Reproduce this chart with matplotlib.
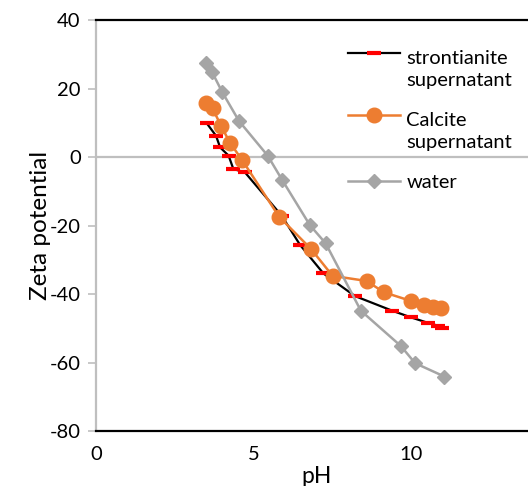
import matplotlib
matplotlib.use("Agg")
import matplotlib.pyplot as plt
from matplotlib.legend_handler import HandlerLine2D

plt.rcParams['font.family'] = ['Lato', 'DejaVu Sans']
plt.rcParams['axes.unicode_minus'] = False

#Data
sr_ph = [3.52, 3.81, 3.94, 4.21, 4.36, 4.73, 5.90, 6.48, 7.22, 8.22, 9.41, 9.99, 10.53, 10.87, 10.99]
sr_zeta = [9.8, 6.2, 2.8, 0.4, -3.5, -4.5, -17.2, -25.7, -34.0, -40.6, -44.9, -46.8, -48.4, -49.3, -50.0]

ca_ph = [3.49, 3.70, 3.97, 4.25, 4.64, 5.81, 6.83, 7.51, 8.59, 9.14, 9.99, 10.42, 10.69, 10.94]
ca_zeta = [15.9, 14.2, 9.1, 4.2, -0.9, -17.4, -26.9, -34.7, -36.2, -39.5, -42.0, -43.2, -43.9, -44.2]

w_ph = [3.49, 3.69, 4.01, 4.54, 5.45, 5.91, 6.79, 7.29, 8.41, 9.68, 10.13, 11.06]
w_zeta = [27.4, 24.7, 18.9, 10.5, 0.4, -6.7, -19.9, -25.2, -44.9, -55.2, -60.2, -64.1]

labels = ["strontianite\nsupernatant", "Calcite\nsupernatant", "water"]
x_ticks = [0, 5, 10]
y_ticks = [-80, -60, -40, -20, 0, 20, 40]

axis_grey = '#bfbfbf'

#Handler that lifts the handle up to the first text line
class FirstLineHandler(HandlerLine2D):
    def __init__(self, shift=0, **kw):
        super().__init__(**kw)
        self.shift = shift
    def create_artists(self, legend, orig_handle, xdescent, ydescent, width, height, fontsize, trans):
        return super().create_artists(legend, orig_handle, xdescent, ydescent - self.shift,
                                      width, height, fontsize, trans)

fig = plt.figure(figsize=(5.28, 4.86), dpi=100)
ax = fig.add_axes([96/528, 1 - 431/486, 441/528, 411/486])

ax.axhline(0, color=axis_grey, lw=1.6, zorder=1)

sr, = ax.plot(sr_ph, sr_zeta, color='black', lw=1.6, marker='_', ms=10,
              mec='#ff0000', mew=3, zorder=3, label=labels[0])
ca, = ax.plot(ca_ph, ca_zeta, color='#ed7d31', lw=1.8, marker='o', ms=10.5,
              mec='#ed7d31', mfc='#ed7d31', zorder=4, label=labels[1])
wa, = ax.plot(w_ph, w_zeta, color='#a5a5a5', lw=1.8, marker='D', ms=7.5,
              mec='#a5a5a5', mfc='#a5a5a5', zorder=5, label=labels[2])

ax.set_xlim(0, 14)
ax.set_ylim(-80, 40)
ax.set_xticks(x_ticks)
ax.set_yticks(y_ticks)

for s in ['top', 'bottom']:
    ax.spines[s].set_color('black')
    ax.spines[s].set_linewidth(1.6)
ax.spines['left'].set_color(axis_grey)
ax.spines['left'].set_linewidth(1.6)
ax.spines['right'].set_visible(False)

ax.tick_params(axis='y', length=6, width=1.2, color=axis_grey, pad=5, labelsize=14.5)
ax.tick_params(axis='x', length=0, pad=11, labelsize=14.5)

ax.set_xlabel("pH", fontsize=16.5, labelpad=2)
ax.set_ylabel("Zeta potential", fontsize=17.5, labelpad=-1)

leg = ax.legend(handles=[sr, ca, wa], loc='upper left', bbox_to_anchor=(252/441, 1 - 30/411),
                frameon=False, fontsize=14.5, handlelength=2.6, handletextpad=0.3,
                labelspacing=1.15, borderaxespad=0, borderpad=0,
                handler_map={sr: FirstLineHandler(shift=24), ca: FirstLineHandler(shift=24)})
for t in leg.get_texts():
    t.set_linespacing(1.35)

fig.savefig("out.png", dpi=100)
